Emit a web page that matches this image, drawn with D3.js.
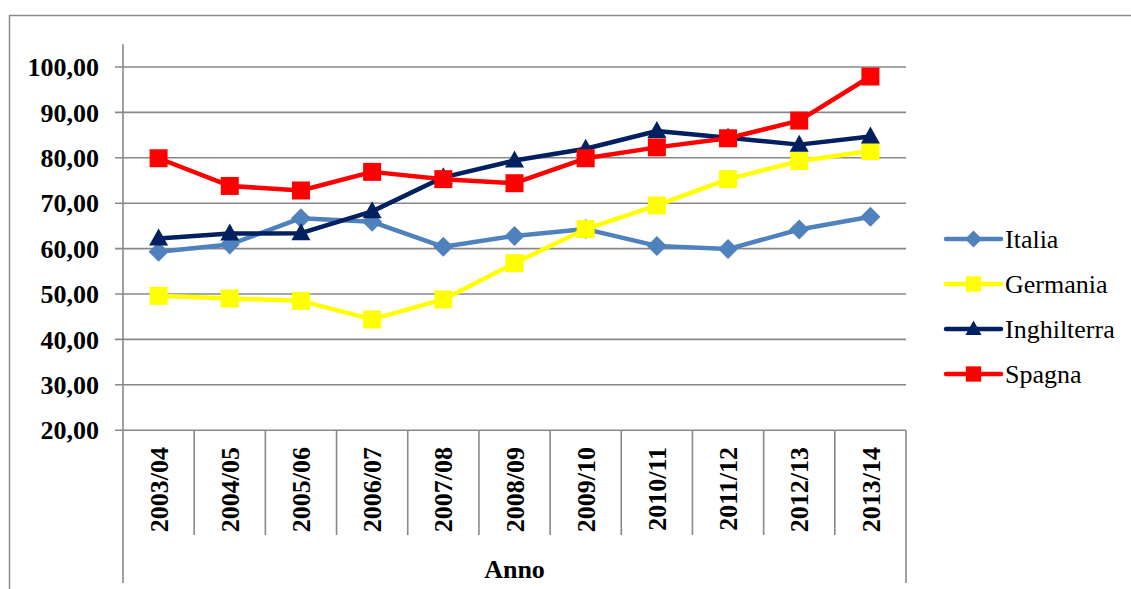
<!DOCTYPE html>
<html>
<head>
<meta charset="utf-8">
<script src="https://cdn.jsdelivr.net/npm/d3@7"></script>
<style>
  html, body { margin: 0; padding: 0; background: #fff; }
  svg { display: block; }
  text { font-family: "Liberation Serif", "Times New Roman", serif; fill: #000; }
</style>
</head>
<body>
<svg id="chart" width="1131" height="589"></svg>
<script>
// Stagioni (asse delle categorie)
const categories = ["2003/04", "2004/05", "2005/06", "2006/07", "2007/08", "2008/09",
                    "2009/10", "2010/11", "2011/12", "2012/13", "2013/14"];

// Valori per paese
const italia      = [59.3, 60.9, 66.7, 65.9, 60.4, 62.8, 64.3, 60.6, 59.9, 64.2, 67.0];
const germania    = [49.6, 49.0, 48.5, 44.4, 48.8, 56.8, 64.3, 69.5, 75.3, 79.3, 81.5];
const inghilterra = [62.2, 63.3, 63.4, 68.2, 75.7, 79.4, 82.0, 85.9, 84.4, 82.9, 84.7];
const spagna      = [79.9, 73.8, 72.8, 76.9, 75.3, 74.4, 79.9, 82.3, 84.3, 88.2, 97.9];

const seriesNames = ["Italia", "Germania", "Inghilterra", "Spagna"];
const yTicks = [20, 30, 40, 50, 60, 70, 80, 90, 100];
const xTitle = "Anno";

const series = [
  { name: seriesNames[0], values: italia,      color: "#4F81BD", marker: "diamond" },
  { name: seriesNames[1], values: germania,    color: "#FFFF00", marker: "square" },
  { name: seriesNames[2], values: inghilterra, color: "#002060", marker: "triangle" },
  { name: seriesNames[3], values: spagna,      color: "#FF0000", marker: "square" }
];

const svg = d3.select("#chart");
const FS = 26;

// Plot area
const plotLeft = 123, plotRight = 906, plotTop = 44.3, plotBottom = 430.2;
const y = d3.scaleLinear().domain([20, 105]).range([plotBottom, plotTop]);
const x = d3.scaleBand().domain(categories).range([plotLeft, plotRight]).padding(0);
const cx = c => x(c) + x.bandwidth() / 2;

// Outer frame
svg.append("rect")
  .attr("x", 9.5).attr("y", 15.5)
  .attr("width", 1140).attr("height", 600)
  .attr("fill", "none").attr("stroke", "#8c8c8c").attr("stroke-width", 1.5);

const grid = "#888888";

// Horizontal gridlines with small tick marks on the left
svg.append("g").selectAll("line").data(yTicks).join("line")
  .attr("x1", 115).attr("x2", plotRight)
  .attr("y1", d => y(d)).attr("y2", d => y(d))
  .attr("stroke", grid).attr("stroke-width", 1.6);

// Y tick labels
svg.append("g").selectAll("text").data(yTicks).join("text")
  .attr("x", 99).attr("y", d => y(d)).attr("dy", "0.35em")
  .attr("text-anchor", "end")
  .attr("font-size", FS).attr("font-weight", "bold")
  .text(d => d3.format(".2f")(d).replace(".", ","));

// Vertical axis line (also bounding the category group box)
svg.append("line")
  .attr("x1", plotLeft).attr("x2", plotLeft).attr("y1", plotTop).attr("y2", 583)
  .attr("stroke", grid).attr("stroke-width", 1.6);
svg.append("line")
  .attr("x1", plotRight).attr("x2", plotRight).attr("y1", plotBottom).attr("y2", 583)
  .attr("stroke", grid).attr("stroke-width", 1.6);

// Category dividers below the axis
const dividers = categories.slice(1).map(c => x(c));
svg.append("g").selectAll("line").data(dividers).join("line")
  .attr("x1", d => d).attr("x2", d => d)
  .attr("y1", plotBottom).attr("y2", 535)
  .attr("stroke", grid).attr("stroke-width", 1.6);

// Category labels (rotated)
svg.append("g").selectAll("text").data(categories).join("text")
  .attr("transform", d => `translate(${cx(d)},447) rotate(-90)`)
  .attr("text-anchor", "end").attr("dy", "0.35em")
  .attr("font-size", FS).attr("font-weight", "bold")
  .text(d => d);

// Axis title
svg.append("text")
  .attr("x", (plotLeft + plotRight) / 2).attr("y", 578)
  .attr("text-anchor", "middle")
  .attr("font-size", FS).attr("font-weight", "bold")
  .text(xTitle);

// Marker shapes
function markerPath(type) {
  if (type === "diamond") return "M0,-10L10,0L0,10L-10,0Z";
  if (type === "square") return "M-9,-9H9V9H-9Z";
  return "M0,-10L9.5,7L-9.5,7Z";
}

const line = d3.line().x((d, i) => cx(categories[i])).y(d => y(d));

series.forEach(s => {
  const g = svg.append("g");
  g.append("path")
    .attr("d", line(s.values))
    .attr("fill", "none").attr("stroke", s.color)
    .attr("stroke-width", 4.5).attr("stroke-linejoin", "round");
  g.selectAll("path.m").data(s.values).join("path")
    .attr("class", "m")
    .attr("transform", (d, i) => `translate(${cx(categories[i])},${y(d)})`)
    .attr("d", markerPath(s.marker))
    .attr("fill", s.color);
});

// Legend
const legendY = [239, 284, 329, 374];
const lg = svg.append("g");
series.forEach((s, i) => {
  const yy = legendY[i];
  lg.append("line")
    .attr("x1", 946).attr("x2", 1001).attr("y1", yy).attr("y2", yy)
    .attr("stroke", s.color).attr("stroke-width", 4.5).attr("stroke-linecap", "round");
  lg.append("path")
    .attr("transform", `translate(973.5,${yy}) scale(0.85)`)
    .attr("d", markerPath(s.marker))
    .attr("fill", s.color);
  lg.append("text")
    .attr("x", 1005).attr("y", yy).attr("dy", "0.33em")
    .attr("font-size", FS)
    .text(s.name);
});
</script>
</body>
</html>
